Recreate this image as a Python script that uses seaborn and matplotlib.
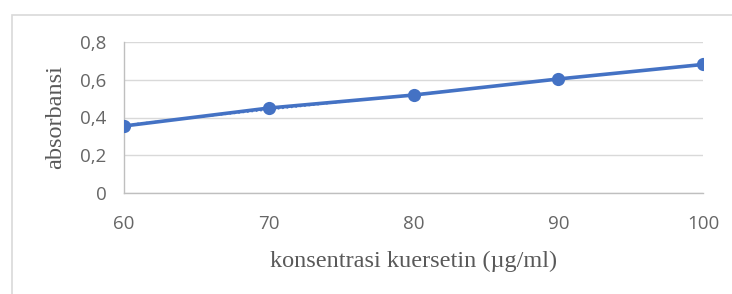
import matplotlib
matplotlib.use("Agg")
import matplotlib.pyplot as plt
import matplotlib.ticker as mticker
import matplotlib.patches as mpatches
import seaborn as sns
import numpy as np
import pandas as pd

konsentrasi = [60, 70, 80, 90, 100]
absorbansi = [0.355, 0.45, 0.519, 0.604, 0.681]
x_ticks = [60, 70, 80, 90, 100]
y_ticks = [0, 0.2, 0.4, 0.6, 0.8]

df = pd.DataFrame({"x": konsentrasi, "y": absorbansi})

sns.set_theme(style="white")
plt.rcParams["font.family"] = ["Open Sans", "DejaVu Sans"]

fig = plt.figure(figsize=(7.32, 2.94), dpi=100)
ax = fig.add_axes([124/732, 1-193/294, (703-124)/732, (193-42)/294])

blue = "#4472C4"
# linear trendline (dotted)
coef = np.polyfit(konsentrasi, absorbansi, 1)
df["trend"] = np.polyval(coef, df["x"])
sns.lineplot(data=df, x="x", y="trend", ax=ax, color=blue, lw=1.2, linestyle=":", zorder=3)
sns.lineplot(data=df, x="x", y="y", ax=ax, color=blue, lw=2.6, marker="o",
             markersize=9.5, markeredgewidth=0, zorder=4)

ax.set_xlim(60, 100)
ax.set_ylim(0, 0.8)
ax.set_xticks(x_ticks)
ax.set_yticks(y_ticks)
ax.yaxis.set_major_formatter(mticker.FuncFormatter(
    lambda v, p: "0" if abs(v) < 1e-9 else f"{v:.1f}".replace(".", ",")))
ax.grid(axis="y", color="#D9D9D9", lw=1)
ax.grid(axis="x", visible=False)
for s in ["top", "right"]:
    ax.spines[s].set_visible(False)
for s in ["left", "bottom"]:
    ax.spines[s].set_color("#BFBFBF")
    ax.spines[s].set_linewidth(1)
ax.tick_params(axis="both", which="major", length=4.5, width=1, color="#BFBFBF",
               labelsize=13.5, labelcolor="#666666")
ax.tick_params(axis="y", pad=8)
ax.tick_params(axis="x", pad=11)

ax.set_xlabel("konsentrasi kuersetin (µg/ml)", family=["Liberation Serif"],
              fontsize=17.5, color="#595959", labelpad=13)
ax.set_ylabel("absorbansi", family=["Liberation Serif"], fontsize=17.5,
              color="#595959", labelpad=10)

fig.patches.append(mpatches.Rectangle((11.5/732, -0.1), 1.2, 1 - 14.5/294 + 0.1,
                                      transform=fig.transFigure, fill=False,
                                      edgecolor="#D9D9D9", lw=1.2))

fig.savefig("out.png", dpi=100)
